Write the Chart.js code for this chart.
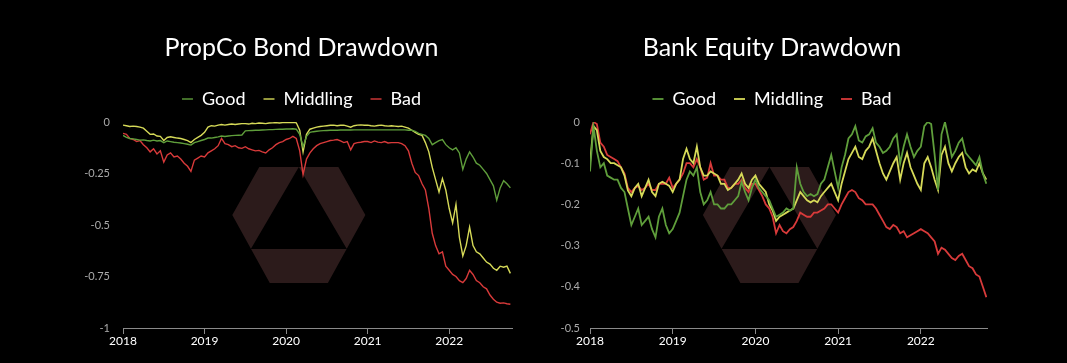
<!DOCTYPE html>
<html>
<head>
<meta charset="utf-8">
<script src="https://cdn.jsdelivr.net/npm/chart.js@4/dist/chart.umd.min.js"></script>
<style>
  html, body { margin: 0; padding: 0; background: #000; }
  body { width: 1067px; height: 363px; position: relative; overflow: hidden; }
  canvas { position: absolute; top: 0; }
  #bondChart { left: 0px; }
  #equityChart { left: 537px; }
</style>
</head>
<body>
<canvas id="bondChart" width="603" height="363"></canvas>
<canvas id="equityChart" width="470" height="363"></canvas>
<script>
// Time axis (decimal years, half-month steps)
const bondDates = [
  2018.000, 2018.042, 2018.083, 2018.125, 2018.167, 2018.208, 2018.250, 2018.292, 2018.333, 2018.375, 2018.417, 2018.458,
  2018.500, 2018.542, 2018.583, 2018.625, 2018.667, 2018.708, 2018.750, 2018.792, 2018.833, 2018.875, 2018.917, 2018.958,
  2019.000, 2019.042, 2019.083, 2019.125, 2019.167, 2019.208, 2019.250, 2019.292, 2019.333, 2019.375, 2019.417, 2019.458,
  2019.500, 2019.542, 2019.583, 2019.625, 2019.667, 2019.708, 2019.750, 2019.792, 2019.833, 2019.875, 2019.917, 2019.958,
  2020.000, 2020.042, 2020.083, 2020.125, 2020.167, 2020.208, 2020.250, 2020.292, 2020.333, 2020.375, 2020.417, 2020.458,
  2020.500, 2020.542, 2020.583, 2020.625, 2020.667, 2020.708, 2020.750, 2020.792, 2020.833, 2020.875, 2020.917, 2020.958,
  2021.000, 2021.042, 2021.083, 2021.125, 2021.167, 2021.208, 2021.250, 2021.292, 2021.333, 2021.375, 2021.417, 2021.458,
  2021.500, 2021.542, 2021.583, 2021.625, 2021.667, 2021.708, 2021.750, 2021.792, 2021.833, 2021.875, 2021.917, 2021.958,
  2022.000, 2022.042, 2022.083, 2022.125, 2022.167, 2022.208, 2022.250, 2022.292, 2022.333, 2022.375, 2022.417, 2022.458,
  2022.500, 2022.542, 2022.583, 2022.625, 2022.667, 2022.708, 2022.750
];
const equityDates = bondDates.concat([2022.792]);

// PropCo Bond Drawdown
const bondGood = [
  -0.065, -0.075, -0.080, -0.082, -0.085, -0.088, -0.087, -0.090, -0.092, -0.088, -0.092, -0.090,
  -0.100, -0.092, -0.095, -0.098, -0.100, -0.102, -0.105, -0.108, -0.112, -0.100, -0.095, -0.090,
  -0.085, -0.078, -0.078, -0.075, -0.072, -0.068, -0.070, -0.068, -0.066, -0.065, -0.064, -0.063,
  -0.043, -0.042, -0.041, -0.040, -0.040, -0.039, -0.038, -0.037, -0.037, -0.036, -0.035, -0.035,
  -0.034, -0.034, -0.033, -0.035, -0.060, -0.120, -0.070, -0.050, -0.047, -0.045, -0.043, -0.042,
  -0.041, -0.040, -0.040, -0.040, -0.039, -0.039, -0.039, -0.039, -0.038, -0.038, -0.038, -0.038,
  -0.038, -0.038, -0.038, -0.038, -0.038, -0.038, -0.038, -0.038, -0.038, -0.038, -0.038, -0.038,
  -0.040, -0.040, -0.045, -0.055, -0.060, -0.065, -0.080, -0.110, -0.100, -0.090, -0.085, -0.110,
  -0.125, -0.135, -0.125, -0.150, -0.230, -0.180, -0.145, -0.170, -0.200, -0.210, -0.230, -0.250,
  -0.280, -0.310, -0.380, -0.320, -0.285, -0.300, -0.320
];
const bondMiddling = [
  -0.015, -0.018, -0.022, -0.020, -0.022, -0.025, -0.030, -0.045, -0.060, -0.058, -0.068, -0.070,
  -0.090, -0.075, -0.072, -0.075, -0.078, -0.080, -0.085, -0.090, -0.100, -0.085, -0.075, -0.065,
  -0.050, -0.025, -0.018, -0.020, -0.015, -0.012, -0.015, -0.012, -0.010, -0.012, -0.010, -0.008,
  -0.008, -0.010, -0.006, -0.008, -0.005, -0.006, -0.008, -0.005, -0.004, -0.003, -0.005, -0.003,
  -0.002, -0.003, -0.002, -0.004, -0.040, -0.145, -0.060, -0.035, -0.030, -0.025, -0.022, -0.020,
  -0.018, -0.016, -0.015, -0.018, -0.016, -0.015, -0.020, -0.025, -0.018, -0.015, -0.014, -0.016,
  -0.015, -0.018, -0.020, -0.017, -0.015, -0.018, -0.020, -0.018, -0.020, -0.022, -0.020, -0.025,
  -0.030, -0.040, -0.050, -0.060, -0.065, -0.100, -0.145, -0.220, -0.280, -0.340, -0.275, -0.330,
  -0.420, -0.490, -0.400, -0.560, -0.650, -0.600, -0.510, -0.600, -0.630, -0.640, -0.660, -0.680,
  -0.690, -0.710, -0.720, -0.700, -0.705, -0.700, -0.735
];
const bondBad = [
  -0.055, -0.060, -0.080, -0.085, -0.095, -0.090, -0.110, -0.125, -0.145, -0.130, -0.155, -0.140,
  -0.195, -0.160, -0.150, -0.170, -0.165, -0.180, -0.200, -0.215, -0.240, -0.185, -0.175, -0.165,
  -0.170, -0.150, -0.140, -0.130, -0.115, -0.080, -0.105, -0.110, -0.120, -0.115, -0.125, -0.128,
  -0.120, -0.130, -0.135, -0.140, -0.138, -0.145, -0.150, -0.135, -0.125, -0.110, -0.100, -0.095,
  -0.085, -0.080, -0.070, -0.080, -0.140, -0.255, -0.180, -0.150, -0.130, -0.115, -0.105, -0.100,
  -0.095, -0.090, -0.088, -0.085, -0.092, -0.100, -0.095, -0.135, -0.105, -0.100, -0.098, -0.095,
  -0.095, -0.100, -0.092, -0.098, -0.100, -0.095, -0.102, -0.100, -0.100, -0.100, -0.105, -0.115,
  -0.140, -0.200, -0.245, -0.260, -0.300, -0.330, -0.420, -0.540, -0.600, -0.640, -0.630, -0.700,
  -0.720, -0.740, -0.750, -0.770, -0.780, -0.760, -0.720, -0.740, -0.770, -0.780, -0.800, -0.810,
  -0.840, -0.860, -0.875, -0.880, -0.878, -0.882, -0.885
];

// Bank Equity Drawdown
const equityGood = [
  -0.120, -0.010, -0.070, -0.110, -0.100, -0.130, -0.135, -0.140, -0.140, -0.160, -0.170, -0.210,
  -0.250, -0.230, -0.210, -0.250, -0.240, -0.230, -0.260, -0.280, -0.230, -0.210, -0.250, -0.270,
  -0.260, -0.240, -0.220, -0.180, -0.140, -0.120, -0.130, -0.110, -0.170, -0.200, -0.190, -0.170,
  -0.200, -0.200, -0.210, -0.210, -0.200, -0.200, -0.190, -0.180, -0.145, -0.170, -0.190, -0.160,
  -0.140, -0.160, -0.170, -0.180, -0.190, -0.210, -0.230, -0.225, -0.220, -0.210, -0.215, -0.210,
  -0.110, -0.150, -0.170, -0.180, -0.175, -0.180, -0.175, -0.150, -0.140, -0.110, -0.080, -0.120,
  -0.160, -0.110, -0.080, -0.040, -0.030, -0.010, -0.045, -0.050, -0.035, -0.030, -0.015, -0.050,
  -0.060, -0.075, -0.070, -0.060, -0.040, -0.030, -0.100, -0.060, -0.030, -0.060, -0.085, -0.070,
  -0.060, -0.010, 0.000, -0.005, -0.080, -0.165, -0.030, 0.000, -0.040, -0.085, -0.070, -0.050,
  -0.040, -0.075, -0.085, -0.095, -0.105, -0.085, -0.125, -0.150
];
const equityMiddling = [
  -0.100, -0.010, -0.020, -0.070, -0.085, -0.090, -0.100, -0.100, -0.105, -0.110, -0.130, -0.166,
  -0.180, -0.160, -0.150, -0.180, -0.160, -0.140, -0.170, -0.180, -0.150, -0.145, -0.150, -0.155,
  -0.170, -0.150, -0.140, -0.090, -0.065, -0.090, -0.100, -0.060, -0.110, -0.130, -0.130, -0.120,
  -0.125, -0.130, -0.150, -0.150, -0.165, -0.160, -0.150, -0.140, -0.125, -0.150, -0.160, -0.140,
  -0.130, -0.150, -0.160, -0.170, -0.200, -0.215, -0.240, -0.230, -0.225, -0.220, -0.215, -0.210,
  -0.190, -0.170, -0.180, -0.190, -0.195, -0.190, -0.195, -0.180, -0.170, -0.160, -0.150, -0.170,
  -0.190, -0.150, -0.120, -0.090, -0.075, -0.060, -0.085, -0.090, -0.070, -0.060, -0.040, -0.070,
  -0.100, -0.125, -0.140, -0.120, -0.100, -0.085, -0.140, -0.100, -0.075, -0.110, -0.130, -0.150,
  -0.165, -0.100, -0.085, -0.110, -0.140, -0.165, -0.080, -0.060, -0.100, -0.120, -0.100, -0.085,
  -0.075, -0.110, -0.125, -0.115, -0.120, -0.100, -0.125, -0.140
];
const equityBad = [
  -0.030, 0.000, -0.005, -0.050, -0.060, -0.080, -0.085, -0.090, -0.095, -0.110, -0.125, -0.160,
  -0.170, -0.160, -0.155, -0.165, -0.160, -0.150, -0.165, -0.165, -0.150, -0.150, -0.150, -0.135,
  -0.160, -0.150, -0.140, -0.125, -0.100, -0.100, -0.110, -0.090, -0.110, -0.140, -0.135, -0.100,
  -0.130, -0.130, -0.140, -0.140, -0.160, -0.160, -0.150, -0.150, -0.140, -0.160, -0.170, -0.150,
  -0.150, -0.165, -0.180, -0.200, -0.210, -0.230, -0.270, -0.250, -0.265, -0.270, -0.260, -0.255,
  -0.240, -0.220, -0.225, -0.230, -0.230, -0.220, -0.220, -0.215, -0.210, -0.200, -0.200, -0.210,
  -0.220, -0.200, -0.185, -0.170, -0.165, -0.170, -0.185, -0.190, -0.200, -0.200, -0.200, -0.210,
  -0.225, -0.240, -0.255, -0.260, -0.250, -0.255, -0.270, -0.265, -0.280, -0.275, -0.270, -0.265,
  -0.260, -0.265, -0.270, -0.280, -0.290, -0.320, -0.305, -0.310, -0.320, -0.330, -0.335, -0.325,
  -0.320, -0.335, -0.350, -0.355, -0.370, -0.375, -0.400, -0.425
];

const seriesNames = ['Good', 'Middling', 'Bad'];
const seriesColors = ['#5f9e3b', '#d6da58', '#d83a3a'];
const yearTicks = [2018, 2019, 2020, 2021, 2022];
const bondYTicks = [0, -0.25, -0.5, -0.75, -1];
const equityYTicks = [0, -0.1, -0.2, -0.3, -0.4, -0.5];

const FONT = 'Lato, "Open Sans", sans-serif';

// hexagon watermark behind the lines
const watermark = {
    id: 'watermark',
    beforeDatasetsDraw(chart) {
        const a = chart.chartArea;
        const h = a.bottom - a.top;
        const cx = a.left + (a.right - a.left) * 0.452;
        const cy = a.top + h * 0.5;
        const p = (x, y) => [cx + x * h, cy + y * h];
        const hex = [p(-0.192, -0.282), p(0.192, -0.282), p(0.323, -0.049), p(0.141, 0.282), p(-0.141, 0.282), p(-0.323, -0.049)];
        const tri = [p(0, -0.282), p(0.233, 0.117), p(-0.233, 0.117)];
        const ctx = chart.ctx;
        ctx.save();
        ctx.beginPath();
        [hex, tri].forEach(poly => {
            poly.forEach((pt, i) => i ? ctx.lineTo(pt[0], pt[1]) : ctx.moveTo(pt[0], pt[1]));
            ctx.closePath();
        });
        ctx.fillStyle = '#2c1b1b';
        ctx.fill('evenodd');
        ctx.restore();
    }
};

function makeChart(id, title, dates, values, yTicks, yMin, axisWidth, labelPad, rightGap, xMax, lineW) {
    const ctx = document.getElementById(id).getContext('2d');
    return new Chart(ctx, {
        type: 'line',
        data: {
            datasets: values.map((vals, i) => ({
                label: seriesNames[i],
                data: dates.map((t, j) => ({ x: t, y: vals[j] })),
                borderColor: seriesColors[i],
                backgroundColor: seriesColors[i],
                borderWidth: lineW,
                pointRadius: 0,
                tension: 0,
                fill: false
            }))
        },
        options: {
            responsive: false,
            animation: false,
            devicePixelRatio: 1,
            layout: { padding: { top: 0, bottom: 14.6, left: 0, right: 0 } },
            plugins: {
                title: {
                    display: true,
                    text: title,
                    color: '#ffffff',
                    font: { family: FONT, size: 25, weight: 'normal', lineHeight: 1.2 },
                    padding: { top: 33, bottom: 9 }
                },
                subtitle: {
                    display: true,
                    text: '',
                    weight: 500,
                    padding: 0,
                    font: { size: 4, lineHeight: 1 }
                },
                legend: {
                    display: true,
                    labels: {
                        color: '#ffffff',
                        font: { family: FONT, size: 18 },
                        usePointStyle: true,
                        pointStyle: 'line',
                        pointStyleWidth: 11,
                        padding: 18
                    }
                },
                tooltip: { enabled: false }
            },
            scales: {
                x: {
                    type: 'linear',
                    min: 2018,
                    max: xMax,
                    afterBuildTicks: s => { s.ticks = yearTicks.map(v => ({ value: v })); },
                    ticks: {
                        color: '#ffffff',
                        font: { family: FONT, size: 12 },
                        padding: 0,
                        maxRotation: 0,
                        callback: v => String(v)
                    },
                    grid: { display: true, drawOnChartArea: false, drawTicks: true, tickLength: 6, color: '#8a8a8a' },
                    border: { display: true, color: '#8a8a8a', width: 1 }
                },
                y: {
                    min: yMin,
                    max: 0,
                    afterBuildTicks: s => { s.ticks = yTicks.map(v => ({ value: v })); },
                    afterFit: s => { s.width = axisWidth; },
                    ticks: {
                        color: '#aaaaaa',
                        font: { family: FONT, size: 11 },
                        padding: labelPad,
                        callback: v => String(Math.round(v * 100) / 100)
                    },
                    grid: { display: false, drawTicks: false },
                    border: { display: false }
                },
                // empty spacer on the right so the title sits centred like the original
                gap: {
                    position: 'right',
                    afterFit: s => { s.width = rightGap; },
                    ticks: { display: false },
                    grid: { display: false, drawTicks: false },
                    border: { display: false }
                }
            }
        },
        plugins: [watermark]
    });
}

makeChart('bondChart', 'PropCo Bond Drawdown', bondDates, [bondGood, bondMiddling, bondBad],
    bondYTicks, -1, 123, 13, 91, 2022.77, 1.4);
makeChart('equityChart', 'Bank Equity Drawdown', equityDates, [equityGood, equityMiddling, equityBad],
    equityYTicks, -0.5, 53, 10, 20, 2022.80, 1.8);
</script>
</body>
</html>
